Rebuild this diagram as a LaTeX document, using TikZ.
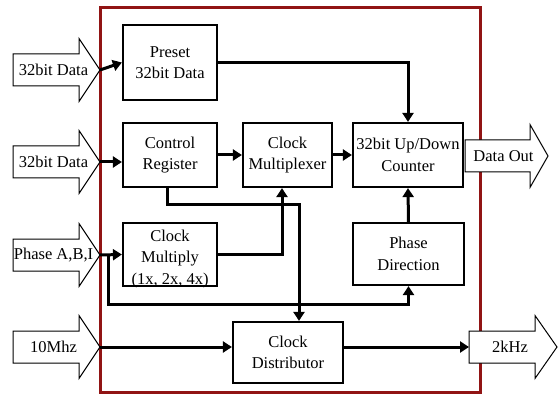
\documentclass[tikz,border=0pt]{standalone}
\usepackage{fontspec}
\setmainfont{Liberation Serif}
\usetikzlibrary{arrows.meta}
\definecolor{framered}{RGB}{145,20,20}
\tikzset{
  blk/.style={draw, line width=2.2pt, fill=white, align=center, inner sep=0pt,
    font=\fontsize{16.5}{21.5}\selectfont},
  lbl/.style={align=center, inner sep=0pt, font=\fontsize{16.5}{21.5}\selectfont},
  conn/.style={line width=3pt, -{Triangle[length=9pt,width=11pt]}},
  barrow/.style={draw, line width=1pt, fill=white, line join=miter},
}
\newcommand{\blockarrow}[6]{% name, x0, xbase, xtip, yc, text
  \draw[barrow] (#2,#5-16) -- (#3,#5-16) -- (#3,#5-31.5) -- (#4,#5) -- (#3,#5+31.5)
    -- (#3,#5+16) -- (#2,#5+16) -- cycle;
  \coordinate (#1s) at (#2,#5);
  \coordinate (#1t) at (#4,#5);
  \node[lbl] (#1) at ({(#2+#4)/2-3},#5) {#6};
}
\begin{document}
\begin{tikzpicture}[x=1pt,y=-1pt]
\useasboundingbox (0,0) rectangle (558,396);
% frame
\draw[framered, line width=3pt] (100.5,7.5) rectangle (480.5,392.5);
% boxes
\node[blk, minimum width=94pt, minimum height=75pt] (preset) at (170,62.5) {Preset\\32bit Data};
\node[blk, minimum width=94pt, minimum height=64pt] (ctrl) at (170,155) {Control\\Register};
\node[blk, minimum width=89pt, minimum height=64pt] (mux) at (287.5,155) {Clock\\Multiplexer};
\node[blk, minimum width=110pt, minimum height=64pt] (cnt) at (408,155) {32bit Up/Down\\Counter};
\node[blk, minimum width=94pt, minimum height=63pt] (mult) at (170,254.5) {};
\node[lbl] (multtxt) at (170,259) {Clock\\Multiply\\(1x, 2x, 4x)};
\node[blk, minimum width=111pt, minimum height=62pt] (pdir) at (408.5,254) {Phase\\Direction};
\node[blk, minimum width=110pt, minimum height=61pt] (dist) at (288,352.5) {Clock\\Distributor};
% block arrows
\blockarrow{inA}{13}{79}{100}{70}{32bit Data}
\blockarrow{inB}{13}{79}{100}{162}{32bit Data}
\blockarrow{inC}{13}{79}{100}{255}{Phase A,B,I}
\blockarrow{inD}{13}{79}{100}{347}{10Mhz}
\blockarrow{outA}{465}{530}{548}{156}{Data Out}
\blockarrow{outB}{469}{535}{557}{347}{2kHz}
% connectors
\coordinate (j1) at (299,205);
\coordinate (b1) at (108,255);
\coordinate (b2) at (108,304);
\draw[conn] (inAt) -- (preset.west);
\draw[conn] (preset.east) -| (cnt.north);
\draw[conn] (inBt) -- (inBt -| ctrl.west);
\draw[conn] (ctrl.east) -- (mux.west);
\draw[conn] (mux.east) -- (cnt.west);
\draw[conn] (pdir.north) -- (cnt.south);
\draw[conn] (mult.east) -| ([xshift=-5.5pt]mux.south);
\draw[conn] ([xshift=-3pt]ctrl.south) |- (j1) -- (j1 |- dist.north);
\draw[conn] (inCt) -- (mult.west);
\draw[conn] (b1) -- (b2) -| (pdir.south);
\draw[conn] (inDt) -- (inDt -| dist.west);
\draw[conn] (inDt -| dist.east) -- (outBs);
\end{tikzpicture}
\end{document}
